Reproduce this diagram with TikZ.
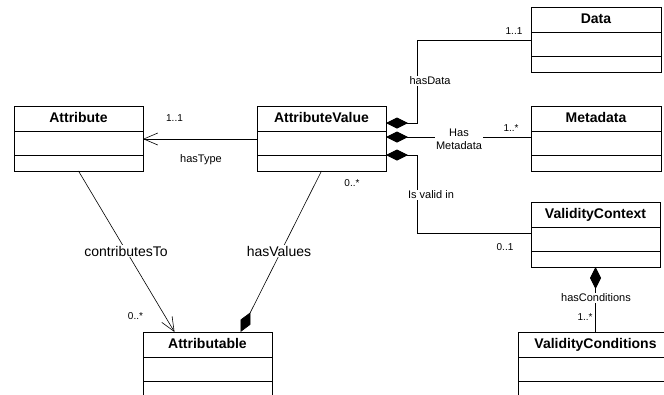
\documentclass[tikz,border=0pt]{standalone}
\usepackage{fontspec}
\setmainfont{Liberation Sans}
\usetikzlibrary{positioning,arrows.meta,calc}
\tikzset{
  classhead/.style={
    shape = rectangle,
    draw,
    line width=0.8pt,
    outer sep=0pt,
    inner sep=0pt,
    minimum height=25pt,
    text height=10pt,
    text depth=3pt,
    font=\fontsize{14}{16}\selectfont\bfseries
  },
  classpart/.style={
    shape = rectangle,
    draw,
    line width=0.8pt,
    outer sep=0pt,
    inner sep=0pt,
    minimum height=24pt
  },
  classfoot/.style={
    classpart,
    minimum height=16pt
  },
}
\tikzset{
  composite/.style={
    line width=0.6pt,
    {Diamond[length=22pt,width=11pt]}-
  },
  composite end/.style={
    line width=0.6pt,
    -{Diamond[length=22pt,width=11pt]}
  },
  navigable/.style={
    line width=0.6pt,
    -{Straight Barb[length=14pt,width=12pt]}
  },
  role/.style={
    fill=white,
    inner sep=1pt,
    font=\fontsize{11}{13}\selectfont
  },
  rolebig/.style={
    fill=white,
    inner sep=1pt,
    font=\fontsize{14}{16}\selectfont
  },
  multi/.style={
    inner sep=1pt,
    font=\fontsize{10}{12}\selectfont
  }
}
% class box: name, x, y (top left), width, title
\newcommand\umlclass[5]{%
  \node[classhead, minimum width=#4, anchor=north west] (#1) at (#2,#3) {#5};
  \node[classpart, minimum width=#4, below=0pt of #1] (#1-attr) {};
  \node[classfoot, minimum width=#4, below=0pt of #1-attr] (#1-ops) {};
}
\begin{document}
\begin{tikzpicture}[x=1pt,y=-1pt]
        \useasboundingbox (0,0) rectangle (664,394);
        \clip (0,0) rectangle (664,394);

        \umlclass{attribute}{14}{106}{129pt}{Attribute}
        \umlclass{value}{257}{106}{129pt}{AttributeValue}
        \umlclass{data}{531}{7}{130pt}{Data}
        \umlclass{metadata}{531}{106}{130pt}{Metadata}
        \umlclass{context}{531}{202}{129pt}{ValidityContext}
        \umlclass{conditions}{518}{332}{155pt}{ValidityConditions}
        \umlclass{attributable}{143}{332}{129pt}{Attributable}

        \draw[navigable] ([yshift=4pt]value-attr.west) -- ([yshift=4pt]attribute-attr.east);
        \draw[composite] ([yshift=-4.5pt]value.east) --++ (31,0) |- ([yshift=3.5pt]data-attr.west);
        \draw[composite] ([yshift=6pt]value-attr.east) -- ([yshift=6pt]metadata-attr.west);
        \draw[composite] (value-attr.south east) --++ (31,0) |- ([yshift=6pt]context-attr.west);
        \draw[composite] (context-ops.south) -- (conditions.north);
        \draw[navigable] (attribute-ops.south) -- ([xshift=-33pt]attributable.north);
        \draw[composite end] (value-ops.south) -- ([xshift=33pt]attributable.north);

        \node[role] (hastype) at (201,160) {hasType};
        \node[multi] (hastype-m) at (174.5,118) {1..1};
        \node[role] (hasdata) at (430,81) {hasData};
        \node[multi] (hasdata-m) at (514,31) {1..1};
        \node[role, align=center] (hasmeta) at (459,139.5) {Has\\Metadata};
        \node[multi] (hasmeta-m) at (511,128) {1..*};
        \node[role] (validin) at (431,195) {Is valid in};
        \node[multi] (validin-m) at (505,247) {0..1};
        \node[role] (hascond) at (596,298) {hasConditions};
        \node[multi] (hascond-m) at (585,317) {1..*};
        \node[rolebig] (contrib) at (126,251) {contributesTo};
        \node[multi] (contrib-m) at (135.5,316) {0..*};
        \node[rolebig] (hasvalues) at (279,251) {hasValues};
        \node[multi] (hasvalues-m) at (352,183) {0..*};
\end{tikzpicture}
\end{document}
